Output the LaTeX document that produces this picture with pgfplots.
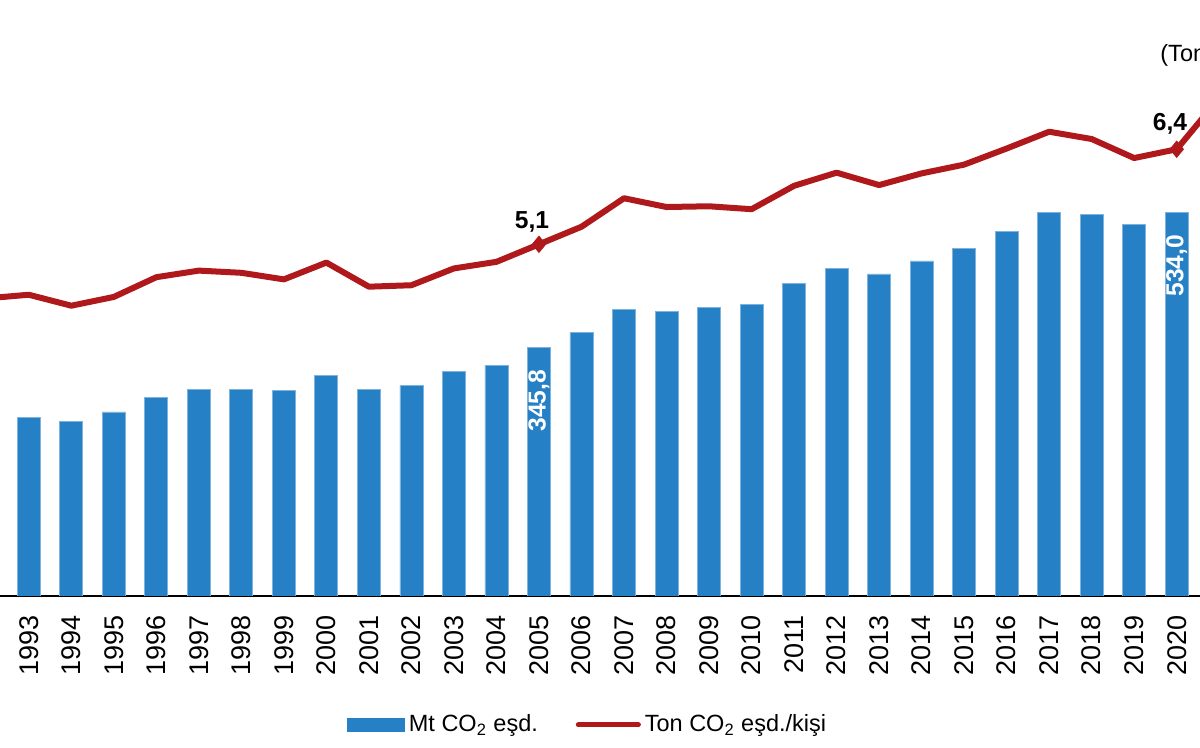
\documentclass[border=0pt]{standalone}
\usepackage{pgfplots}
\pgfplotsset{compat=1.18}
\usepackage{fontspec}
\setmainfont{Liberation Sans}
\definecolor{barblue}{RGB}{38,128,197}
\definecolor{linered}{RGB}{175,25,27}

\begin{document}
\begin{tikzpicture}
\useasboundingbox (0pt,0pt) rectangle (600pt,374pt);
\clip (0pt,0pt) rectangle (600pt,374pt);
\begin{axis}[
  scale only axis, width=600pt, height=298pt,
  at={(0pt,76pt)}, anchor=south west,
  xmin=1992.323, xmax=2020.548,
  ymin=0, ymax=830.1,
  ybar, bar width=11.5pt,
  axis x line*=bottom, axis y line=none,
  x axis line style={line width=1pt, black},
  xtick={1993,1994,1995,1996,1997,1998,1999,2000,2001,2002,2003,2004,2005,2006,2007,2008,2009,2010,2011,2012,2013,2014,2015,2016,2017,2018,2019,2020},
  xticklabels={1993,1994,1995,1996,1997,1998,1999,2000,2001,2002,2003,2004,2005,2006,2007,2008,2009,2010,2011,2012,2013,2014,2015,2016,2017,2018,2019,2020},
  major tick length=0pt,
  xticklabel style={rotate=90, anchor=east, inner sep=0pt, font=\fontsize{13.5}{14}\selectfont},
  xticklabel shift=9.5pt,
]
\addplot[fill=barblue, draw=barblue!60!white, line width=0.4pt] coordinates {
(1993,248.9) (1994,243.3) (1995,256.3) (1996,276.7) (1997,287.9) (1998,287.9)
(1999,286.5) (2000,306.8) (2001,287.9) (2002,293.5) (2003,312.4) (2004,321.7)
(2005,345.8) (2006,366.7) (2007,399.7) (2008,396.0) (2009,401.5) (2010,405.7)
(2011,435.0) (2012,455.8) (2013,448.5) (2014,466.6) (2015,483.7) (2016,507.9)
(2017,533.8) (2018,532.0) (2019,517.1) (2020,534.0)
};
\node[rotate=90, anchor=east, inner sep=0pt, text=white, font=\bfseries\fontsize{12.3}{14}\selectfont] at (axis cs:2005,315.2) {345,8};
\node[rotate=90, anchor=east, inner sep=0pt, text=white, font=\bfseries\fontsize{12.3}{14}\selectfont] at (axis cs:2020,503.4) {534,0};
\end{axis}
\begin{axis}[
  scale only axis, width=600pt, height=298pt,
  at={(0pt,76pt)}, anchor=south west,
  xmin=1992.323, xmax=2020.548,
  ymin=0.289, ymax=8.442,
  hide axis,
  legend columns=2,
  legend style={at={(0.4905,-0.2164)}, anchor=center, draw=none, fill=none,
    font=\fontsize{11.75}{14}\selectfont,
    /tikz/every even column/.append style={column sep=17pt}},
]
\addlegendimage{legend image code/.code={\fill[barblue] (0pt,-3.25pt) rectangle (28.5pt,3.25pt);}}
\addlegendentry{Mt CO\textsubscript{2} eşd.}
\addplot[linered, line width=3pt, line join=round, no marks,
  legend image code/.code={\draw[linered, line width=2.5pt, line cap=round] (0pt,0pt) -- (30pt,0pt);}]
coordinates {
(1992,4.36) (1993,4.41) (1994,4.26) (1995,4.38) (1996,4.65) (1997,4.74) (1998,4.71)
(1999,4.62) (2000,4.85) (2001,4.52) (2002,4.54) (2003,4.77) (2004,4.86)
(2005,5.10) (2006,5.34) (2007,5.73) (2008,5.61) (2009,5.62) (2010,5.58)
(2011,5.90) (2012,6.08) (2013,5.91) (2014,6.07) (2015,6.19) (2016,6.41)
(2017,6.64) (2018,6.54) (2019,6.28) (2020,6.40) (2021,7.10)
};
\addlegendentry{Ton CO\textsubscript{2} eşd./kişi}
\addplot[only marks, mark=diamond*, mark size=4pt, mark options={fill=linered, draw=linered, line width=0.5pt, xscale=1.1}, forget plot]
coordinates {(2005,5.10) (2020,6.40)};
\node[anchor=base, inner sep=0pt, font=\bfseries\fontsize{12.3}{14}\selectfont] at (axis cs:2004.836,5.319) {5,1};
\node[anchor=base, inner sep=0pt, font=\bfseries\fontsize{12.3}{14}\selectfont] at (axis cs:2019.843,6.654) {6,4};
\end{axis}
\node[anchor=base west, inner sep=0pt, font=\fontsize{11.75}{14}\selectfont] at (580pt,343pt) {(Ton CO\textsubscript{2} eşd./kişi)};
\end{tikzpicture}
\end{document}
